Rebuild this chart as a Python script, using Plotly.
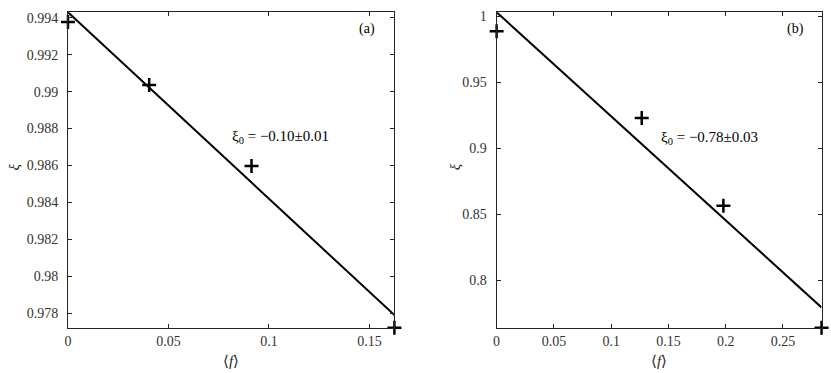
import plotly.graph_objects as go

# ── Datos ────────────────────────────────────────────────────────────────────

# Panel (a)
f_a = [0.0, 0.0404, 0.0913, 0.1624]
xi_a = [0.99377, 0.99036, 0.98598, 0.97721]
ajuste_a_x = [0.0, 0.1624]
ajuste_a_y = [0.9943, 0.9779]
rango_a_x = [0.0, 0.1624]
rango_a_y = [0.97721, 0.9943]
ticks_a_x = [0, 0.05, 0.1, 0.15]
etiq_a_x = ["0", "0.05", "0.1", "0.15"]
ticks_a_y = [0.978, 0.98, 0.982, 0.984, 0.986, 0.988, 0.99, 0.992, 0.994]
etiq_a_y = ["0.978", "0.98", "0.982", "0.984", "0.986", "0.988", "0.99", "0.992", "0.994"]
texto_a = "ξ<sub>0</sub> = −0.10±0.01"

# Panel (b)
f_b = [0.0, 0.1267, 0.198, 0.2837]
xi_b = [0.9886, 0.9228, 0.8565, 0.7639]
ajuste_b_x = [0.0, 0.2837]
ajuste_b_y = [1.003, 0.7794]
rango_b_x = [0.0, 0.2837]
rango_b_y = [0.7639, 1.003]
ticks_b_x = [0, 0.05, 0.1, 0.15, 0.2, 0.25]
etiq_b_x = ["0", "0.05", "0.1", "0.15", "0.2", "0.25"]
ticks_b_y = [0.8, 0.85, 0.9, 0.95, 1.0]
etiq_b_y = ["0.8", "0.85", "0.9", "0.95", "1"]
texto_b = "ξ<sub>0</sub> = −0.78±0.03"

ANCHO, ALTO = 831, 373
FUENTE = "Liberation Serif"


def px_x(p):
    return p / ANCHO


def px_y(p):
    return 1 - p / ALTO


fig = go.Figure()

for f, xi, ax, ay, xa, ya in [
    (f_a, xi_a, ajuste_a_x, ajuste_a_y, "x", "y"),
    (f_b, xi_b, ajuste_b_x, ajuste_b_y, "x2", "y2"),
]:
    fig.add_trace(go.Scatter(
        x=ax, y=ay, mode="lines", xaxis=xa, yaxis=ya,
        line=dict(color="black", width=2), cliponaxis=False,
        showlegend=False,
    ))
    fig.add_trace(go.Scatter(
        x=f, y=xi, mode="markers", xaxis=xa, yaxis=ya,
        marker=dict(symbol="cross-thin", size=10, color="black",
                    line=dict(color="black", width=2.5)),
        cliponaxis=False, showlegend=False,
    ))

eje = dict(
    showgrid=False, zeroline=False, showline=True, linecolor="#262626",
    linewidth=1, mirror="ticks", ticks="inside", ticklen=4, tickwidth=1,
    tickcolor="#262626", tickfont=dict(family=FUENTE, size=14, color="#333333"),
)

fig.update_layout(
    width=ANCHO, height=ALTO,
    margin=dict(l=0, r=0, t=0, b=0),
    paper_bgcolor="white", plot_bgcolor="white",
    font=dict(family=FUENTE),
    xaxis=dict(eje, domain=[px_x(64.3), px_x(392.3)], range=rango_a_x,
               tickvals=ticks_a_x, ticktext=etiq_a_x, anchor="y"),
    yaxis=dict(eje, domain=[px_y(327.5), px_y(9.3)], range=rango_a_y,
               tickvals=ticks_a_y, ticktext=etiq_a_y, anchor="x",
               ticklabelstandoff=6),
    xaxis2=dict(eje, domain=[px_x(495), px_x(821.5)], range=rango_b_x,
                tickvals=ticks_b_x, ticktext=etiq_b_x, anchor="y2"),
    yaxis2=dict(eje, domain=[px_y(327.5), px_y(9.3)], range=rango_b_y,
                tickvals=ticks_b_y, ticktext=etiq_b_y, anchor="x2",
                ticklabelstandoff=6),
)

anot = []
# textos de ajuste
anot.append(dict(x=0.0807, y=0.98754, xref="x", yref="y", text=texto_a,
                 xanchor="left", yanchor="middle", showarrow=False,
                 font=dict(family=FUENTE, size=15, color="black")))
anot.append(dict(x=0.1421, y=0.9075, xref="x2", yref="y2", text=texto_b,
                 xanchor="left", yanchor="middle", showarrow=False,
                 font=dict(family=FUENTE, size=15, color="black")))
# etiquetas de panel
for txt, xp in [("(a)", 375), ("(b)", 806)]:
    anot.append(dict(x=px_x(xp), y=px_y(26), xref="paper", yref="paper",
                     text=txt, xanchor="right", yanchor="middle",
                     showarrow=False,
                     font=dict(family=FUENTE, size=14, color="black")))
# títulos de ejes
for xc in (228.3, 658.3):
    anot.append(dict(x=px_x(xc), y=px_y(361), xref="paper", yref="paper",
                     text="⟨<i>f</i>⟩", xanchor="center", yanchor="middle",
                     showarrow=False,
                     font=dict(family=FUENTE, size=15, color="#262626")))
for xc in (10, 452.7):
    anot.append(dict(x=px_x(xc), y=px_y(165), xref="paper", yref="paper",
                     text="<i>ξ</i>", textangle=-90, xanchor="center",
                     yanchor="middle", showarrow=False,
                     font=dict(family=FUENTE, size=15, color="#262626")))

fig.update_layout(annotations=anot)

# quitar el margen del body para que la figura empiece en (0, 0)
fig.write_html("out.html", config={"displayModeBar": False},
               post_script="document.body.style.margin='0';")
